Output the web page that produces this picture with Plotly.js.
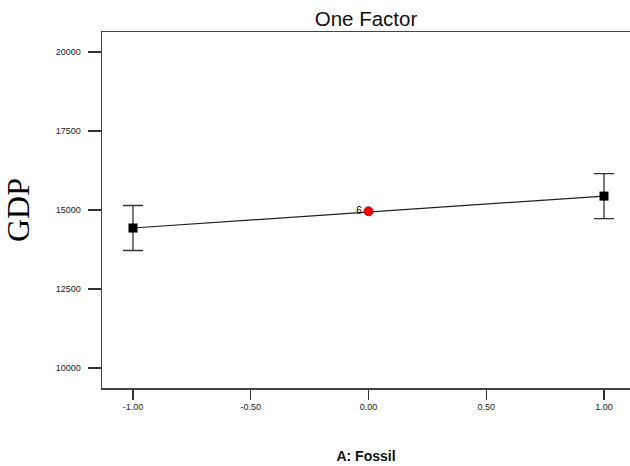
<!DOCTYPE html>
<html>
<head>
<meta charset="utf-8">
<script src="https://cdn.plot.ly/plotly-3.0.1.min.js"></script>
<style>html,body{margin:0;padding:0;background:#fff;}#chart{width:630px;height:466px;}</style>
</head>
<body>
<div id="chart"></div>
<script>
// Factor levels and predicted GDP
const factorLevels = [-1, 1];
const gdpMeans = [14430, 15440];
const gdpErrors = [712, 712];
// Center point
const centerLevel = [0];
const centerGdp = [14960];
const centerLabel = ['6'];
// Tick labels
const xTickVals = [-1, -0.5, 0, 0.5, 1];
const xTickText = ['-1.00', '-0.50', '0.00', '0.50', '1.00'];
const yTickVals = [10000, 12500, 15000, 17500, 20000];
const yTickText = ['10000', '12500', '15000', '17500', '20000'];

const traces = [
  {
    x: factorLevels, y: gdpMeans, type: 'scatter', mode: 'lines',
    line: {color: '#222', width: 1.2}, hoverinfo: 'skip', showlegend: false
  },
  {
    x: factorLevels, y: gdpMeans, type: 'scatter', mode: 'markers',
    marker: {symbol: 'square', size: 9, color: '#000'},
    error_y: {type: 'data', array: gdpErrors, visible: true, color: '#333', thickness: 1.3, width: 10},
    showlegend: false
  },
  {
    x: centerLevel, y: centerGdp, type: 'scatter', mode: 'markers+text',
    text: centerLabel, textposition: 'middle left',
    textfont: {family: 'Liberation Sans, Arial, sans-serif', size: 10, color: '#000'},
    marker: {symbol: 'circle', size: 9, color: '#ff0000', line: {color: '#990000', width: 0.8}},
    showlegend: false
  }
];

const layout = {
  width: 630, height: 466,
  margin: {l: 102, r: 0, t: 32, b: 78},
  paper_bgcolor: '#fff', plot_bgcolor: '#fff',
  font: {family: 'Liberation Sans, Arial, sans-serif', color: '#111'},
  title: {text: 'One Factor', font: {size: 20.5, color: '#111'}, x: 0.5, xref: 'paper', xanchor: 'center', y: 1, yref: 'container', yanchor: 'top', pad: {t: 12}},
  xaxis: {
    range: [-1.1316, 1.1104], tickvals: xTickVals, ticktext: xTickText,
    showgrid: false, zeroline: false, showline: true, mirror: true,
    linecolor: '#444', linewidth: 1.5,
    ticks: 'outside', ticklen: 10, tickcolor: '#333', tickwidth: 1.3,
    tickfont: {size: 9, color: '#222'},
    title: {text: 'A: Fossil', font: {size: 14, color: '#111', weight: 'bold'}, standoff: 40}
  },
  yaxis: {
    range: [9367, 20633], tickvals: yTickVals, ticktext: yTickText,
    showgrid: false, zeroline: false, showline: true, mirror: false,
    linecolor: '#444', linewidth: 1.5,
    ticks: 'outside', ticklen: 13, tickcolor: '#333', tickwidth: 1.3,
    ticklabelstandoff: 5,
    tickfont: {size: 9, color: '#222'},
    title: {text: 'GDP', font: {family: 'Liberation Serif, Times New Roman, serif', size: 32, color: '#000'}, standoff: 22}
  }
};

Plotly.newPlot('chart', traces, layout, {displayModeBar: false, staticPlot: true});
</script>
</body>
</html>
